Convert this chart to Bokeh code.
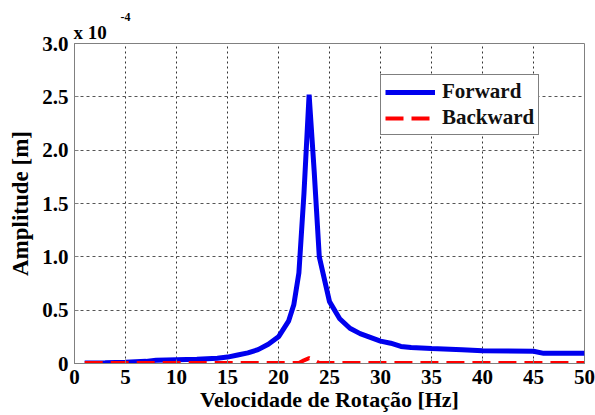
from bokeh.plotting import figure
from bokeh.models import Legend, LegendItem, FixedTicker, Range1d, Title
from bokeh.embed import file_html
from bokeh.resources import INLINE

# Forward whirl amplitude (units of 1e-4 m)
fwd_hz = [1, 3, 5, 7, 8, 10, 12, 14, 15, 16, 17, 18, 19, 20, 21, 21.5, 22, 22.5,
          23, 23.5, 24, 25, 26, 27, 28, 30, 31, 32, 33, 35, 38, 40, 45, 46, 50]
fwd_amp = [0.005, 0.008, 0.012, 0.02, 0.03, 0.035, 0.04, 0.05, 0.06, 0.08, 0.10,
           0.13, 0.18, 0.25, 0.40, 0.55, 0.85, 1.6, 2.52, 1.8, 1.0, 0.58, 0.42,
           0.33, 0.28, 0.21, 0.19, 0.16, 0.15, 0.14, 0.13, 0.12, 0.115, 0.095, 0.095]

# Backward whirl amplitude (units of 1e-4 m)
bwd_hz = [1, 22, 22.5, 23, 23.5, 24, 50]
bwd_amp = [0.004, 0.004, 0.03, 0.05, 0.03, 0.004, 0.004]

x_ticks = [0, 5, 10, 15, 20, 25, 30, 35, 40, 45, 50]
y_ticks = [0, 0.5, 1.0, 1.5, 2.0, 2.5, 3.0]
y_tick_labels = ["0", "0.5", "1.0", "1.5", "2.0", "2.5", "3.0"]

FONT = "Liberation Serif"

p = figure(width=595, height=415, output_backend="svg", toolbar_location=None,
           x_range=Range1d(0, 50), y_range=Range1d(0, 3.0),
           min_border_left=74, min_border_right=11, min_border_top=43,
           min_border_bottom=52)

p.background_fill_color = "white"
p.border_fill_color = "white"
p.outline_line_color = "#808080"
p.outline_line_width = 1

for ax in (p.xaxis[0], p.yaxis[0]):
    ax.axis_line_color = "#808080"
    ax.major_tick_line_color = "#808080"
    ax.major_tick_in = 4
    ax.major_tick_out = 0
    ax.minor_tick_line_color = None
    ax.major_label_text_font = FONT
    ax.major_label_text_font_style = "bold"
    ax.major_label_text_font_size = "21px"
    ax.major_label_text_color = "black"
    ax.axis_label_text_font = FONT
    ax.axis_label_text_font_style = "bold"
    ax.axis_label_text_color = "black"

p.xaxis.ticker = FixedTicker(ticks=x_ticks)
p.yaxis.ticker = FixedTicker(ticks=y_ticks)
p.yaxis.major_label_overrides = {t: s for t, s in zip(y_ticks, y_tick_labels)}
p.xaxis.axis_label = "Velocidade de Rotação [Hz]"
p.yaxis.axis_label = "Amplitude [m]"
p.xaxis.axis_label_text_font_size = "22px"
p.yaxis.axis_label_text_font_size = "23px"
p.xaxis.major_label_standoff = 6
p.yaxis.major_label_standoff = 6
p.xaxis.axis_label_standoff = 0
p.yaxis.axis_label_standoff = 6

p.xgrid.grid_line_color = "#333333"
p.xgrid.grid_line_dash = "2 3"
p.xgrid.grid_line_width = 1
p.ygrid.grid_line_color = "#555555"
p.ygrid.grid_line_dash = "3 3"
p.ygrid.grid_line_width = 1

r_f = p.line(fwd_hz, fwd_amp, line_color="#0000ee", line_width=5)
r_b = p.line(bwd_hz, bwd_amp, line_color="#ff0000", line_width=4, line_dash="18 8")

legend = Legend(items=[LegendItem(label="Forward", renderers=[r_f]),
                       LegendItem(label="Backward", renderers=[r_b])],
                location=(306, 228))
legend.label_text_font = FONT
legend.label_text_font_style = "bold"
legend.label_text_font_size = "21px"
legend.label_text_color = "#111111"
legend.glyph_width = 50
legend.glyph_height = 22
legend.label_standoff = 7
legend.spacing = 1
legend.padding = 4
legend.margin = 0
legend.border_line_color = "black"
legend.border_line_width = 1
legend.background_fill_alpha = 1
p.add_layout(legend)

t_main = Title(text="x 10", align="left", offset=-1, standoff=2,
               text_font=FONT, text_font_style="bold", text_font_size="19px",
               text_color="black")
t_exp = Title(text="-4", align="left", offset=46, standoff=-4,
              text_font=FONT, text_font_style="bold", text_font_size="12px",
              text_color="black")
p.add_layout(t_main, "above")
p.add_layout(t_exp, "above")

open("out.html", "w").write(file_html(p, INLINE))
